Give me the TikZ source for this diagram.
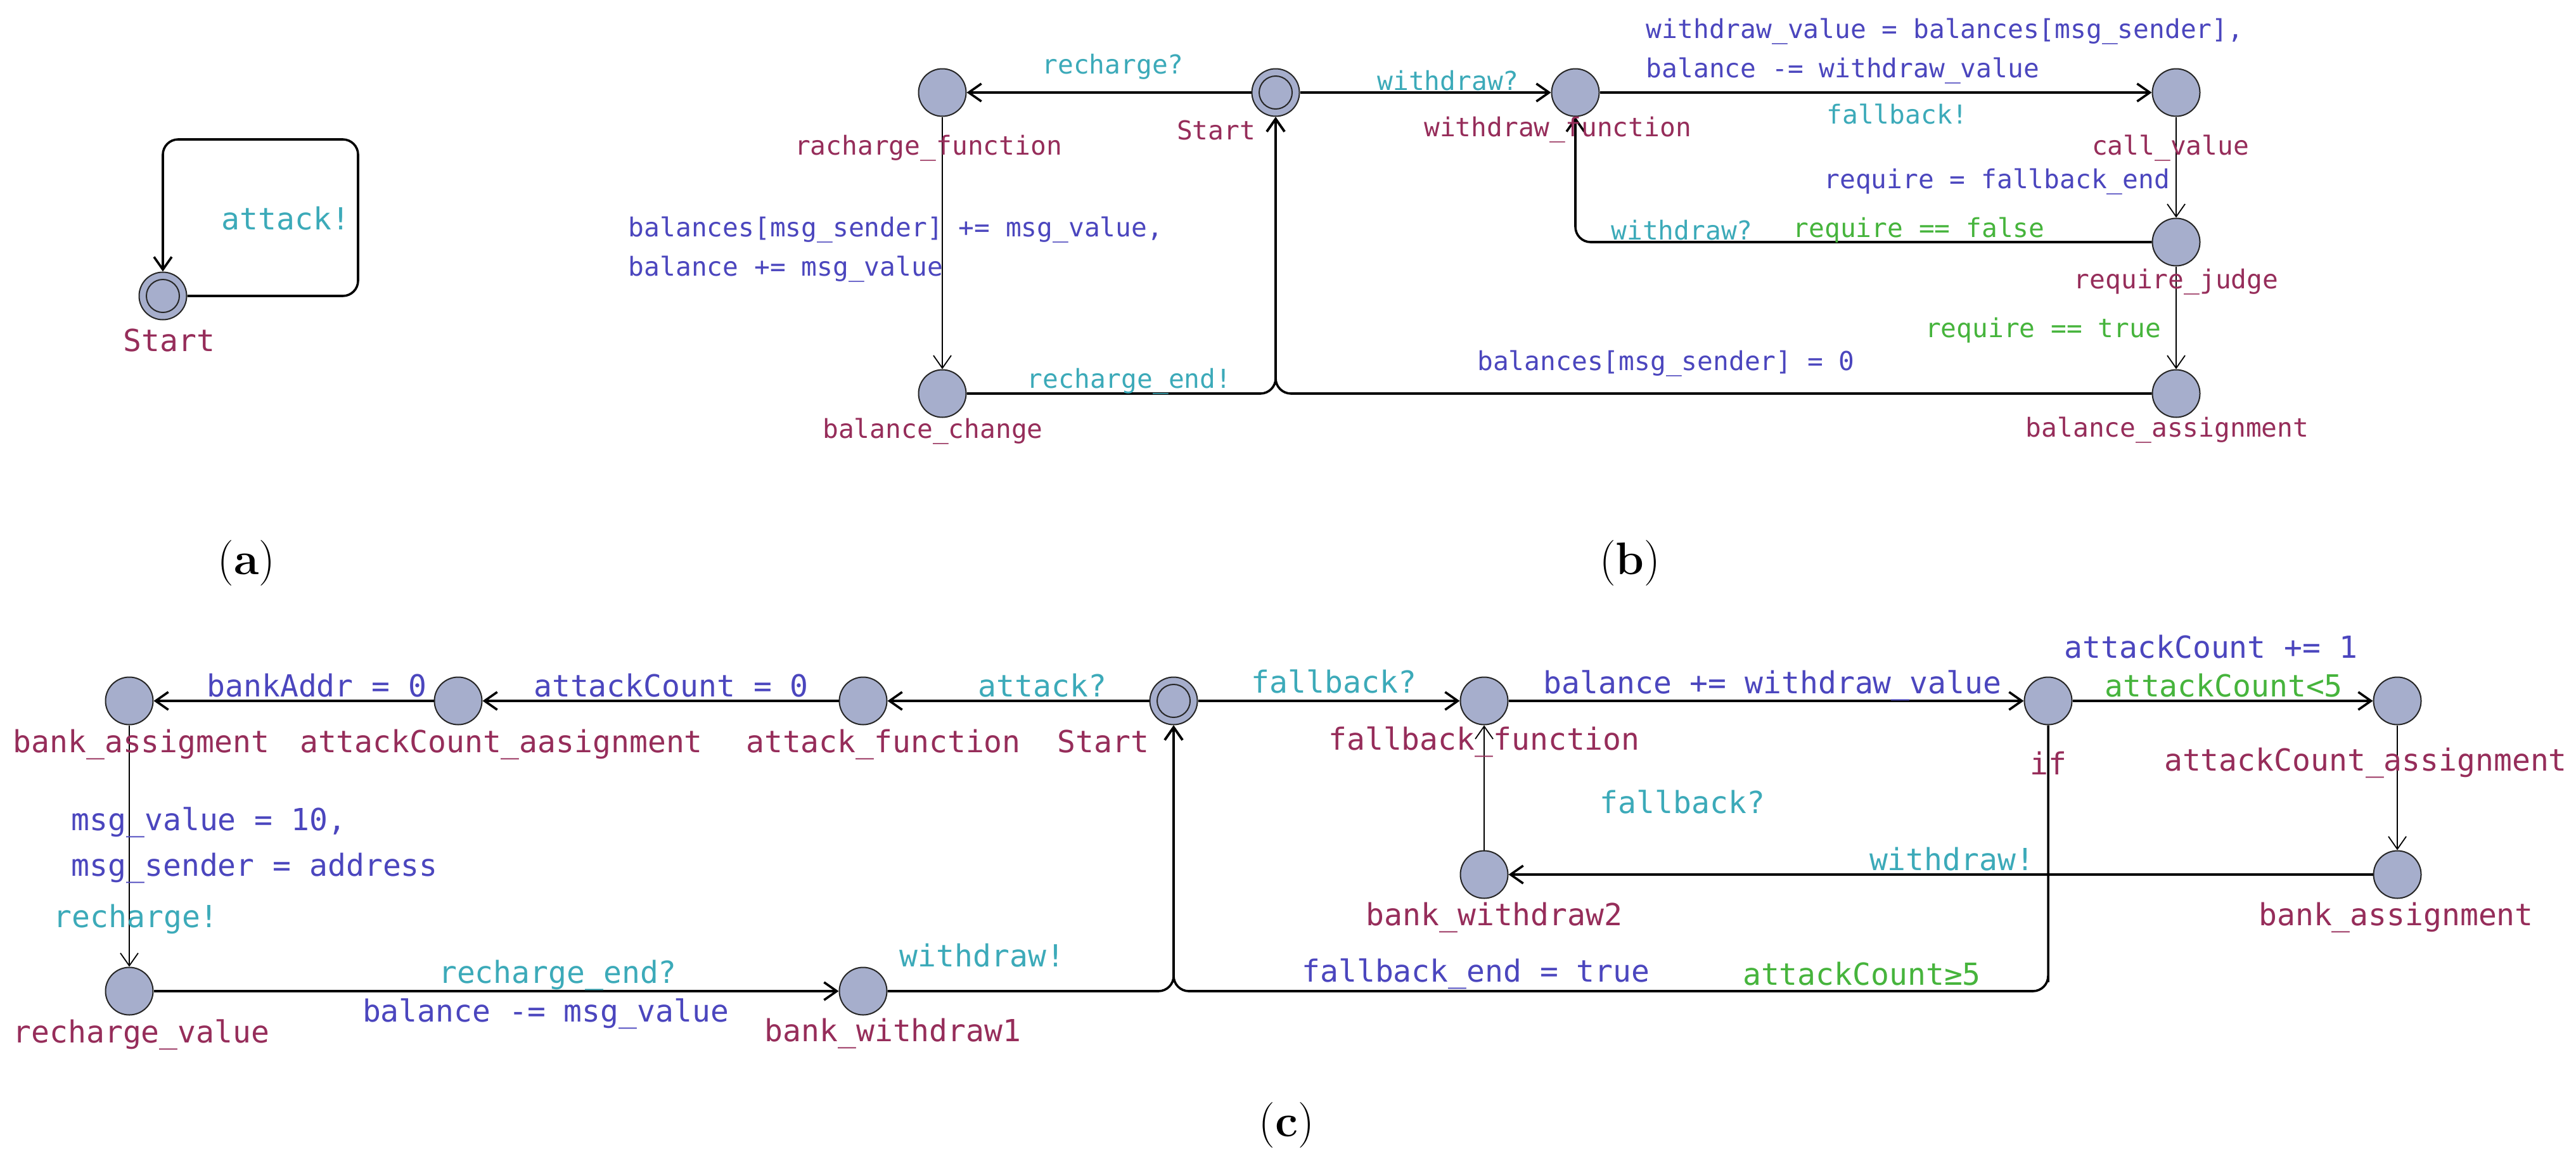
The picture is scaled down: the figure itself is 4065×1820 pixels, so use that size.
\documentclass[tikz,border=0pt]{standalone}
\usepackage{fontspec}
\newfontfamily\uf{DejaVu Sans Mono}
\usetikzlibrary{arrows.meta}
\definecolor{nf}{RGB}{166,174,204}
\definecolor{nm}{RGB}{150,45,90}
\definecolor{sy}{RGB}{60,170,185}
\definecolor{up}{RGB}{75,70,190}
\definecolor{gd}{RGB}{70,180,60}
\begin{document}
\begin{tikzpicture}[x=0.25pt,y=-0.25pt,
 st/.style={circle,draw=black!85,fill=nf,minimum size=18.75pt,inner sep=0pt,line width=0.5pt},
 e/.style={draw,line width=0.9pt,-{Straight Barb[length=5pt,width=7pt]},rounded corners=6pt},
 v/.style={e,line width=0.45pt},
 tb/.style={font=\uf\fontsize{10.3}{12}\selectfont,inner sep=0pt},
 tc/.style={font=\uf\fontsize{12}{14}\selectfont,inner sep=0pt},
 capt/.style={font=\fontsize{18}{20}\selectfont,inner sep=0pt}]
\useasboundingbox[fill=white] (0,0) rectangle (4065,1820);

% ---------- (a)
\node[st] (A) at (257,467) {};
\draw[line width=0.5pt,black!85] (A) circle[radius=6.5pt];
\coordinate (a1) at (565,467); \coordinate (a2) at (565,220); \coordinate (a3) at (257,220);
\draw[e] (A.east) -- (a1) -- (a2) -- (a3) -- (A.north);
\node[tc,nm] (la) at (267,537) {Start};
\node[tc,sy] (la2) at (451,345) {attack!};
\node[capt] (ca) at (389,889) {(\textbf{a})};

% ---------- (b)
\node[st] (BS) at (2013,146) {};
\draw[line width=0.5pt,black!85] (BS) circle[radius=6.5pt];
\node[st] (BR) at (1487,146) {};
\node[st] (BW) at (2486,146) {};
\node[st] (BC) at (3434,146) {};
\node[st] (BJ) at (3434,382) {};
\node[st] (BA) at (3434,621) {};
\node[st] (BB) at (1487,621) {};

\draw[e] (BS) -- (BR);
\draw[e] (BS) -- (BW);
\draw[e] (BW) -- (BC);
\draw[v] (BC) -- (BJ);
\draw[v] (BJ) -- (BA);
\draw[v] (BR) -- (BB);
\draw[e] (BJ.west) -| (BW.south);
\draw[e] (BA.west) -| (BS.south);
\draw[e] (BB.east) -| (BS.south);

\node[tb,nm] at (1919,205) {Start};
\node[tb,nm] at (1465,234) {racharge\_function};
\node[tb,nm] at (2458,205) {withdraw\_function};
\node[tb,nm] at (3425,234) {call\_value};
\node[tb,nm] at (3434,445) {require\_judge};
\node[tb,nm] at (3420,679) {balance\_assignment};
\node[tb,nm] at (1472,681) {balance\_change};

\node[tb,sy] at (1756,105) {recharge?};
\node[tb,sy] at (2285,127) {withdraw?};
\node[tb,up,anchor=west] at (2597,50) {withdraw\_value = balances[msg\_sender],};
\node[tb,up,anchor=west] at (2597,112) {balance -= withdraw\_value};
\node[tb,sy] at (2994,180) {fallback!};
\node[tb,up,anchor=east] at (3425,287) {require = fallback\_end};
\node[tb,sy] at (2654,363) {withdraw?};
\node[tb,gd] at (3028,363) {require == false};
\node[tb,gd] at (3224,521) {require == true};
\node[tb,up] at (2629,574) {balances[msg\_sender] = 0};
\node[tb,up,anchor=west] at (991,363) {balances[msg\_sender] += msg\_value,};
\node[tb,up,anchor=west] at (991,425) {balance += msg\_value};
\node[tb,sy] at (1782,602) {recharge\_end!};
\node[capt] (cb) at (2572,889) {(\textbf{b})};

% ---------- (c)
\node[st] (CS) at (1852,1106) {};
\draw[line width=0.5pt,black!85] (CS) circle[radius=6.5pt];
\node[st] (CAF) at (1362,1106) {};
\node[st] (CAA) at (723,1106) {};
\node[st] (CBA) at (204,1106) {};
\node[st] (CRV) at (204,1564) {};
\node[st] (CW1) at (1362,1564) {};
\node[st] (CFF) at (2342,1106) {};
\node[st] (CIF) at (3232,1106) {};
\node[st] (CAC) at (3783,1106) {};
\node[st] (CBS) at (3783,1380) {};
\node[st] (CW2) at (2342,1380) {};

\draw[e] (CS) -- (CAF);
\draw[e] (CAF) -- (CAA);
\draw[e] (CAA) -- (CBA);
\draw[v] (CBA) -- (CRV);
\draw[e] (CRV) -- (CW1);
\draw[e] (CW1.east) -| (CS.south);
\draw[e] (CS) -- (CFF);
\draw[e] (CFF) -- (CIF);
\draw[e] (CIF) -- (CAC);
\draw[v] (CAC) -- (CBS);
\draw[e] (CBS) -- (CW2);
\draw[v] (CW2) -- (CFF);
\coordinate (c1) at (3232,1564);
\draw[line width=0.45pt] (CIF.south) -- ([yshift=6pt]c1);
\draw[e] (CIF.south) |- (c1) -| (CS.south);

\node[tc,nm] at (223,1175) {bank\_assigment};
\node[tc,nm] at (791,1175) {attackCount\_aasignment};
\node[tc,nm] at (1394,1175) {attack\_function};
\node[tc,nm] at (1741,1170) {Start};
\node[tc,nm] at (223,1633) {recharge\_value};
\node[tc,nm] at (1409,1631) {bank\_withdraw1};
\node[tc,nm] at (2342,1171) {fallback\_function};
\node[tc,nm] at (3232,1204) {if};
\node[tc,nm] at (3733,1204) {attackCount\_assignment};
\node[tc,nm] at (2358,1448) {bank\_withdraw2};
\node[tc,nm] at (3781,1448) {bank\_assignment};

\node[tc,up] at (500,1082) {bankAddr = 0};
\node[tc,up] at (1059,1082) {attackCount = 0};
\node[tc,sy] at (1645,1082) {attack?};
\node[tc,up,anchor=west] at (112,1298) {msg\_value = 10,};
\node[tc,up,anchor=west] at (112,1370) {msg\_sender = address};
\node[tc,sy,anchor=west] at (84,1450) {recharge!};
\node[tc,sy] at (880,1539) {recharge\_end?};
\node[tc,up] at (861,1600) {balance -= msg\_value};
\node[tc,sy] at (1550,1508) {withdraw!};
\node[tc,sy] at (2105,1075) {fallback?};
\node[tc,up] at (2797,1082) {balance += withdraw\_value};
\node[tc,up] at (3489,1021) {attackCount += 1};
\node[tc,gd] at (3509,1082) {attackCount<5};
\node[tc,sy] at (2655,1265) {fallback?};
\node[tc,sy] at (3080,1356) {withdraw!};
\node[tc,up] at (2329,1537) {fallback\_end = true};
\node[tc,gd] at (2938,1537) {attackCount≥5};
\node[capt] (cc) at (2030,1776) {(\textbf{c})};
\end{tikzpicture}
\end{document}
